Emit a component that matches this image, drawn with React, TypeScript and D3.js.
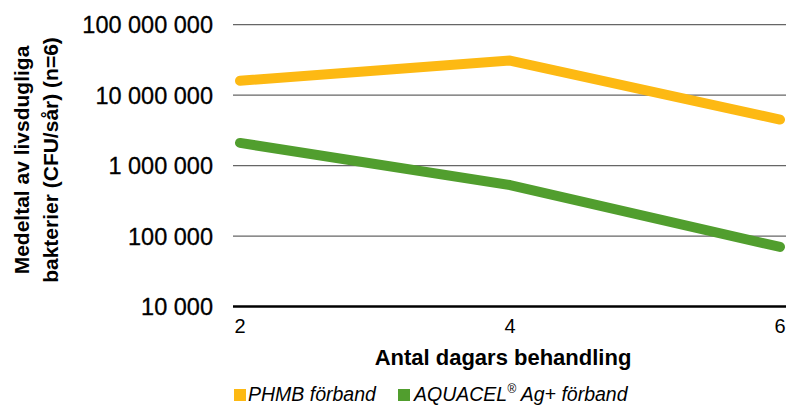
import React from 'react';
import * as d3 from 'd3';

// chart data
const days = [2, 4, 6];
const phmbValues = [16000000, 31000000, 4500000];
const aquacelValues = [2100000, 530000, 70000];
const yTicks = [10000, 100000, 1000000, 10000000, 100000000];
const seriesNames = ['PHMB förband', 'AQUACEL'];
const seriesColors = ['#FDB913', '#519E2E'];

const W = 796;
const H = 407;
const font = '"Liberation Sans", Arial, Helvetica, sans-serif';

const fmt = (v: number) => d3.format(',')(v).replace(/,/g, ' ');

const App = () => {
    const x = d3.scaleLinear().domain([2, 6]).range([240, 780]);
    const y = d3.scaleLog().domain([10000, 100000000]).range([306.5, 24.7]);
    const gridLeft = 233;
    const gridRight = 786;

    const line = d3.line<number>()
        .x((d, i) => x(days[i]))
        .y(d => y(d));

    const series = [phmbValues, aquacelValues];

    return (
        <svg width={W} height={H} style={{ position: 'absolute', left: 0, top: 0, fontFamily: font }}>
            {/* grid lines */}
            {yTicks.map(t => (
                <line key={'g' + t} x1={gridLeft} x2={gridRight} y1={y(t)} y2={y(t)}
                    stroke={t === 10000 ? '#000' : '#666'} strokeWidth={t === 10000 ? 2.5 : 1.2} />
            ))}
            {/* y tick labels */}
            {yTicks.map(t => (
                <text key={'l' + t} x={213} y={y(t)} dy="0.36em" textAnchor="end" fontSize={23.5} fill="#000"
                    stroke="#000" strokeWidth={0.3}>
                    {fmt(t)}
                </text>
            ))}
            {/* x tick labels */}
            {days.map(d => (
                <text key={'x' + d} x={x(d)} y={333} textAnchor="middle" fontSize={20} fill="#000">{d}</text>
            ))}
            {/* lines */}
            {series.map((s, i) => (
                <path key={'s' + i} d={line(s) || ''} fill="none" stroke={seriesColors[i]}
                    strokeWidth={10} strokeLinecap="round" strokeLinejoin="round" />
            ))}
            {/* axis titles */}
            <text x={503} y={365} textAnchor="middle" fontSize={22} fontWeight="bold">Antal dagars behandling</text>
            <g transform="translate(29,160) rotate(-90)">
                <text x={0} y={0} textAnchor="middle" fontSize={21} fontWeight="bold">Medeltal av livsdugliga</text>
                <text x={0} y={29} textAnchor="middle" fontSize={21} fontWeight="bold">bakterier (CFU/sår) (n=6)</text>
            </g>
            {/* legend */}
            <rect x={234} y={389} width={12} height={12} fill={seriesColors[0]} />
            <text x={248} y={401} fontSize={19.5} fontStyle="italic">{seriesNames[0]}</text>
            <rect x={398} y={389} width={12} height={12} fill={seriesColors[1]} />
            <text x={414} y={401} fontSize={19.5} fontStyle="italic">
                {seriesNames[1]}
                <tspan fontSize={12} dy={-8}>®</tspan>
                <tspan dy={8}> Ag+ förband</tspan>
            </text>
        </svg>
    );
};

export default App;
